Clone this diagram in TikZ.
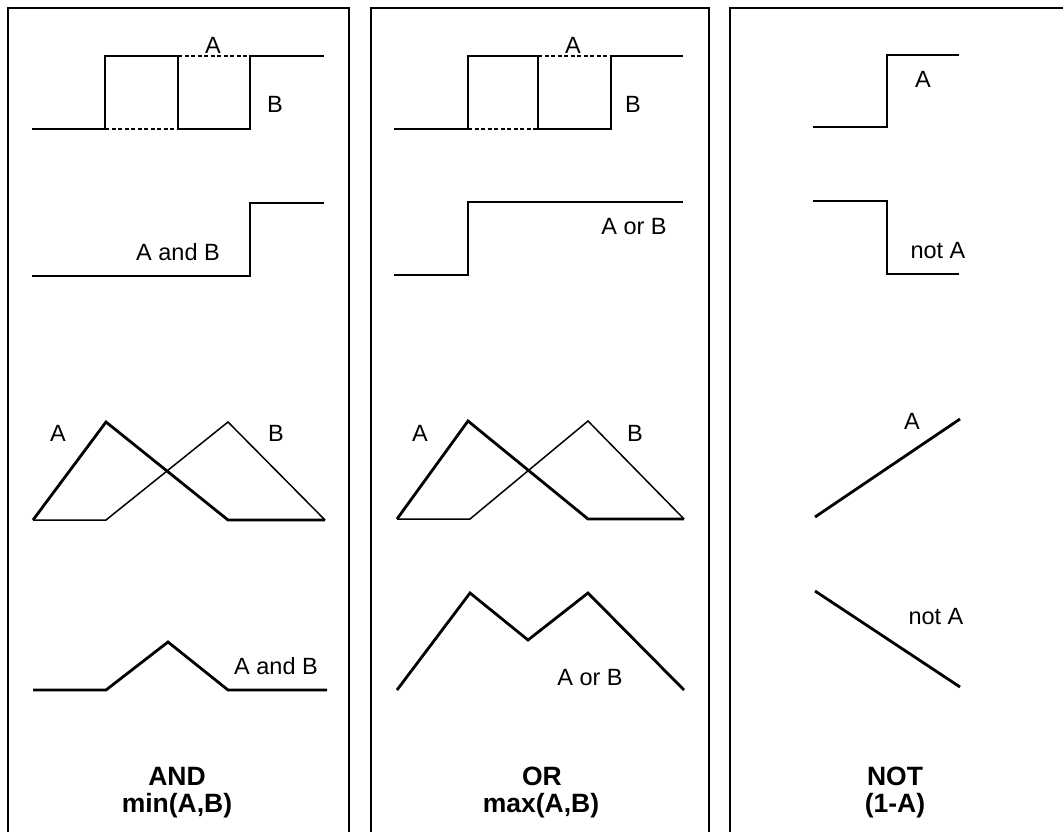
\documentclass[tikz,border=0pt]{standalone}
\usepackage{fontspec}
\setmainfont{Liberation Sans}
\begin{document}
\begin{tikzpicture}[x=1pt,y=-1pt,
  frame/.style={line width=2.7pt},
  sig/.style={line width=2.8pt, line join=miter},
  thinsig/.style={line width=1.5pt, line join=miter},
  dashsig/.style={line width=1.8pt, dash pattern=on 4pt off 2.5pt},
  lbl/.style={font=\fontsize{23.5}{26}\selectfont, inner sep=0pt},
  ttl/.style={font=\bfseries\fontsize{26.5}{30}\selectfont, inner sep=0pt}]
\useasboundingbox (0,0) rectangle (1063,832);

% panel frames (open at the bottom)
\draw[frame] (8,845) -- (8,8) -- (349,8) -- (349,845);
\draw[frame] (371,845) -- (371,8) -- (709,8) -- (709,845);
\draw[frame] (730,845) -- (730,8) -- (1075,8);

% ---------- AND panel ----------
\draw[sig] (32,129) -- (105,129) -- (105,56) -- (178,56) -- (178,129)
  -- (250,129) -- (250,56) -- (324,56);
\draw[dashsig] (105,129) -- (178,129);
\draw[dashsig] (178,56) -- (250,56);
\node[lbl] (andA) at (213,45) {A};
\node[lbl] (andB) at (275,104) {B};

\draw[sig] (32,276) -- (250,276) -- (250,203) -- (324,203);
\node[lbl] (andAB) at (178,252) {A and B};

\draw[sig] (33,520) -- (106,422) -- (228,520) -- (325,520);
\draw[thinsig] (33,520) -- (106,520) -- (228,422) -- (325,520);
\node[lbl] (andFA) at (58,433) {A};
\node[lbl] (andFB) at (276,433) {B};

\draw[sig] (33,690) -- (106,690) -- (168,642) -- (228,690) -- (327,690);
\node[lbl] (andFAB) at (276,666) {A and B};

\node[ttl] (andT) at (177,776) {AND};
\node[ttl] (andF) at (177,806) {min(A,B)};

% ---------- OR panel ----------
\draw[sig] (394,129) -- (468,129) -- (468,56) -- (538,56) -- (538,129)
  -- (611,129) -- (611,56) -- (683,56);
\draw[dashsig] (468,129) -- (538,129);
\draw[dashsig] (538,56) -- (611,56);
\node[lbl] (orA) at (573,45) {A};
\node[lbl] (orB) at (633,104) {B};

\draw[sig] (394,275) -- (468,275) -- (468,202) -- (683,202);
\node[lbl] (orAB) at (634,227) {A or B};

\draw[sig] (397,519) -- (468,421) -- (588,519) -- (684,519);
\draw[thinsig] (397,519) -- (470,519) -- (588,421) -- (684,519);
\node[lbl] (orFA) at (420,433) {A};
\node[lbl] (orFB) at (635,433) {B};

\draw[sig] (397,690) -- (470,593) -- (528,640) -- (588,593) -- (684,690);
\node[lbl] (orFAB) at (590,678) {A or B};

\node[ttl] (orT) at (542,776) {OR};
\node[ttl] (orF) at (541,806) {max(A,B)};

% ---------- NOT panel ----------
\draw[sig] (813,127) -- (887,127) -- (887,55) -- (959,55);
\node[lbl] (notA) at (923,79) {A};

\draw[sig] (813,201) -- (887,201) -- (887,274) -- (959,274);
\node[lbl] (notNA) at (938,251) {not A};

\draw[sig] (815,517) -- (960,419);
\node[lbl] (notFA) at (912,421) {A};

\draw[sig] (815,591) -- (960,687);
\node[lbl] (notFNA) at (936,617) {not A};

\node[ttl] (notT) at (895,776) {NOT};
\node[ttl] (notF) at (895,806) {(1-A)};
\end{tikzpicture}
\end{document}
